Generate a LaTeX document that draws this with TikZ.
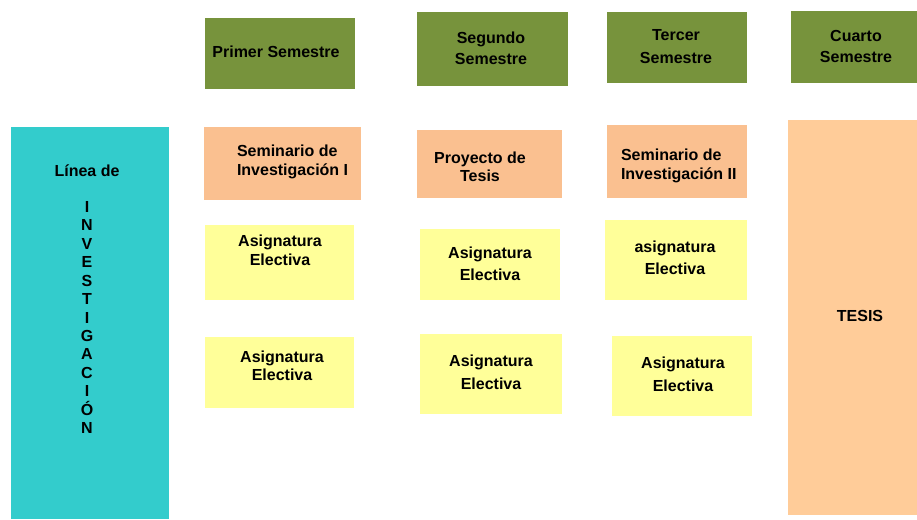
\documentclass[tikz,border=0pt]{standalone}
\usepackage{fontspec}
\setmainfont{Liberation Sans}
\definecolor{teal1}{HTML}{33CCCC}
\definecolor{green1}{HTML}{77933C}
\definecolor{salmon1}{HTML}{FAC090}
\definecolor{peach1}{HTML}{FFCC99}
\definecolor{yellow1}{HTML}{FFFF99}
\tikzset{
  box/.style={rectangle, inner sep=0pt, outer sep=0pt, anchor=north west, draw=none},
  txt/.style={inner sep=0pt, outer sep=0pt, align=center, anchor=north, text=black},
  fs/.style={font=\bfseries\fontsize{16}{#1}\selectfont},
}
\begin{document}
\begin{tikzpicture}[x=1pt,y=-1pt]
\useasboundingbox (0,0) rectangle (917,519);
% boxes
\node[box, fill=teal1,  minimum width=158pt, minimum height=392pt] (lin)  at (11,127) {};
\node[box, fill=green1, minimum width=150pt, minimum height=71pt]  (s1)   at (205,18) {};
\node[box, fill=green1, minimum width=151pt, minimum height=74pt]  (s2)   at (417,12) {};
\node[box, fill=green1, minimum width=140pt, minimum height=71pt]  (s3)   at (607,12) {};
\node[box, fill=green1, minimum width=126pt, minimum height=72pt]  (s4)   at (791,11) {};
\node[box, fill=salmon1, minimum width=157pt, minimum height=73pt] (sem1) at (204,127) {};
\node[box, fill=salmon1, minimum width=145pt, minimum height=68pt] (proy) at (417,130) {};
\node[box, fill=salmon1, minimum width=140pt, minimum height=73pt] (sem2) at (607,125) {};
\node[box, fill=peach1, minimum width=129pt, minimum height=395pt] (tesis) at (788,120) {};
\node[box, fill=yellow1, minimum width=149pt, minimum height=75pt] (a11) at (205,225) {};
\node[box, fill=yellow1, minimum width=140pt, minimum height=71pt] (a12) at (420,229) {};
\node[box, fill=yellow1, minimum width=142pt, minimum height=80pt] (a13) at (605,220) {};
\node[box, fill=yellow1, minimum width=149pt, minimum height=71pt] (a21) at (205,337) {};
\node[box, fill=yellow1, minimum width=142pt, minimum height=80pt] (a22) at (420,334) {};
\node[box, fill=yellow1, minimum width=140pt, minimum height=80pt] (a23) at (612,336) {};
% texts
\node[txt, fs=19] (t-s1) at (276,46) {Primer Semestre};
\node[txt, fs=21] (t-s2) at (491,32) {Segundo\\Semestre};
\node[txt, fs=23] (t-s3) at (676,29) {Tercer\\Semestre};
\node[txt, fs=21] (t-s4) at (856,30) {Cuarto\\Semestre};
\node[txt, fs=19, align=left, anchor=north west] (t-sem1) at (237,145) {Seminario de\\Investigación I};
\node[txt, fs=18] (t-proy) at (480,152) {Proyecto de\\Tesis};
\node[txt, fs=19, align=left, anchor=north west] (t-sem2) at (621,149) {Seminario de\\Investigación II};
\node[txt, fs=19] (t-a11) at (280,235) {Asignatura\\Electiva};
\node[txt, fs=22] (t-a12) at (490,247) {Asignatura\\Electiva};
\node[txt, fs=22] (t-a13) at (675,241) {asignatura\\Electiva};
\node[txt, fs=18] (t-a21) at (282,351) {Asignatura\\Electiva};
\node[txt, fs=23] (t-a22) at (491,355) {Asignatura\\Electiva};
\node[txt, fs=23] (t-a23) at (683,357) {Asignatura\\Electiva};
\node[txt, fs=19] (t-tesis) at (860,310) {TESIS};
\node[txt, fs=19] (t-lin) at (87,165) {Línea de};
\node[txt, font=\bfseries\fontsize{16}{18.42}\selectfont] (t-inv) at (87,201.5)
  {I\\N\\V\\E\\S\\T\\I\\G\\A\\C\\I\\Ó\\N};
\end{tikzpicture}
\end{document}
